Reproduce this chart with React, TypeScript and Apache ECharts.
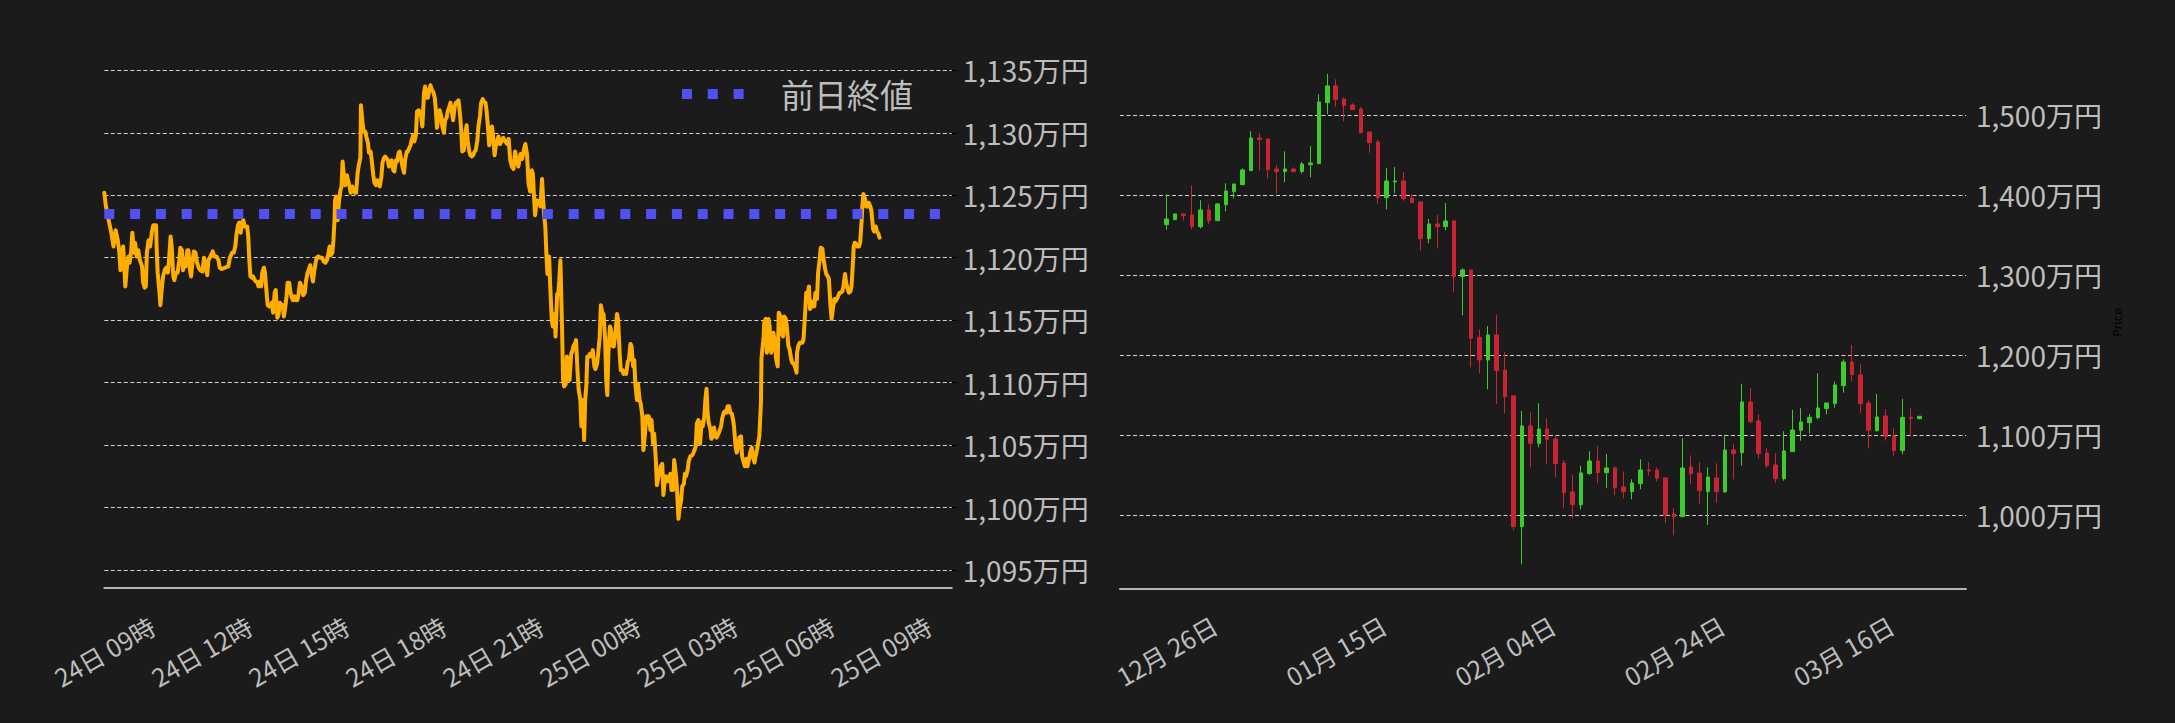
import React, { useEffect, useRef } from "react";
import * as echarts from "echarts";

// ---------- Left chart: intraday price (minutes after 24日 09:00, 万円) ----------
const intradayStartMinute = 540; // 24日 09:00, in minutes from 24日 00:00
const intradayAxisEndMinute = 2112;
const intradayYMin = 1095;
const intradayYMax = 1135;
const intradayYStep = 5;
const previousClose = 1123.5;
const previousCloseLabel = "前日終値";

const intradayPoints: [number, number][] = [
  [0, 1125.2], [3, 1124.1], [8, 1123.0], [13, 1122.0], [17, 1120.9], [21, 1122.2], [25, 1121.4], [28, 1120.4],
  [30, 1119.0], [32, 1120.1], [35, 1120.9], [37, 1119.3], [39, 1117.7], [42, 1119.3], [45, 1120.1], [47, 1119.6],
  [50, 1120.6], [52, 1122.0], [55, 1120.4], [57, 1121.2], [60, 1120.1], [63, 1120.6], [66, 1119.8], [70, 1119.3],
  [72, 1118.0], [75, 1117.6], [77, 1117.7], [79, 1120.4], [82, 1121.4], [85, 1120.9], [88, 1122.0], [91, 1122.6],
  [96, 1122.6], [97, 1120.9], [99, 1118.8], [102, 1117.4], [104, 1116.2], [107, 1117.7], [109, 1118.5], [112, 1119.0],
  [115, 1119.2], [118, 1118.8], [120, 1119.8], [123, 1121.7], [125, 1120.9], [128, 1118.5], [130, 1118.2], [133, 1118.8],
  [136, 1118.8], [139, 1119.8], [141, 1120.8], [144, 1120.6], [146, 1119.0], [149, 1119.8], [151, 1119.3], [154, 1120.6],
  [156, 1120.6], [159, 1119.0], [161, 1118.5], [164, 1119.8], [166, 1120.5], [169, 1120.4], [172, 1119.6], [175, 1119.2],
  [178, 1119.0], [182, 1118.9], [185, 1120.0], [188, 1119.3], [191, 1118.6], [193, 1119.8], [197, 1120.1], [201, 1120.5],
  [204, 1120.1], [208, 1120.1], [212, 1119.8], [214, 1119.2], [218, 1119.1], [224, 1119.2], [230, 1119.3], [233, 1120.0],
  [237, 1120.4], [240, 1120.4], [243, 1120.9], [245, 1121.8], [248, 1122.6], [250, 1122.8], [253, 1122.0], [255, 1122.8],
  [258, 1123.0], [260, 1122.5], [263, 1122.5], [265, 1122.5], [267, 1121.7], [269, 1119.8], [271, 1118.5], [274, 1118.4],
  [276, 1118.5], [279, 1118.2], [281, 1118.1], [284, 1118.0], [286, 1117.7], [288, 1118.1], [291, 1117.7], [293, 1118.8],
  [296, 1119.2], [298, 1118.8], [301, 1117.2], [303, 1116.2], [306, 1116.1], [308, 1116.1], [311, 1116.4], [313, 1115.6],
  [316, 1117.2], [318, 1117.4], [321, 1115.2], [323, 1115.4], [326, 1116.4], [328, 1116.0], [331, 1116.2], [333, 1115.3],
  [335, 1115.8], [338, 1116.9], [340, 1118.0], [343, 1118.0], [345, 1117.3], [348, 1116.8], [350, 1116.6], [353, 1116.9],
  [355, 1116.6], [358, 1116.6], [360, 1117.0], [363, 1118.0], [366, 1117.7], [369, 1117.0], [372, 1117.2], [374, 1118.1],
  [377, 1118.8], [379, 1119.0], [382, 1119.4], [384, 1118.8], [387, 1118.1], [389, 1118.8], [392, 1119.6], [394, 1120.0],
  [397, 1120.1], [400, 1120.0], [404, 1120.0], [407, 1119.7], [410, 1119.6], [413, 1119.8], [415, 1120.2], [418, 1120.9],
  [420, 1120.2], [423, 1120.4], [425, 1121.4], [427, 1123.0], [428, 1124.6], [430, 1124.9], [433, 1123.0], [435, 1124.4],
  [438, 1125.4], [440, 1125.7], [442, 1127.7], [445, 1126.2], [447, 1125.8], [450, 1126.6], [452, 1126.2], [455, 1125.7],
  [457, 1125.2], [460, 1125.7], [462, 1125.3], [465, 1125.2], [467, 1125.2], [470, 1126.8], [472, 1127.4], [475, 1128.0],
  [476, 1132.2], [479, 1130.8], [481, 1130.1], [484, 1130.1], [486, 1129.7], [489, 1129.2], [491, 1128.4], [494, 1128.5],
  [496, 1127.8], [499, 1126.6], [501, 1126.0], [504, 1125.8], [506, 1126.2], [509, 1126.0], [511, 1125.7], [514, 1126.5],
  [516, 1127.6], [519, 1128.0], [521, 1128.1], [523, 1128.0], [526, 1127.8], [528, 1127.3], [531, 1127.6], [533, 1127.8],
  [536, 1127.0], [538, 1126.9], [541, 1127.8], [543, 1127.7], [546, 1128.4], [548, 1128.5], [551, 1127.8], [553, 1127.3],
  [556, 1126.8], [558, 1127.8], [561, 1128.5], [563, 1128.5], [566, 1128.8], [568, 1129.0], [570, 1129.4], [573, 1129.8],
  [575, 1129.3], [578, 1129.8], [580, 1131.7], [583, 1131.8], [585, 1131.7], [588, 1131.2], [590, 1130.5], [593, 1133.2],
  [595, 1133.7], [598, 1132.8], [600, 1132.8], [603, 1133.4], [605, 1133.8], [608, 1133.4], [610, 1133.3], [613, 1132.8],
  [615, 1131.8], [617, 1130.4], [620, 1131.2], [622, 1131.8], [625, 1131.3], [627, 1130.5], [630, 1130.0], [632, 1131.0],
  [635, 1131.2], [637, 1131.7], [640, 1132.1], [642, 1132.4], [645, 1131.6], [647, 1131.0], [650, 1132.1], [652, 1132.4],
  [655, 1132.5], [657, 1132.6], [660, 1131.4], [662, 1130.2], [664, 1128.5], [667, 1128.6], [669, 1129.7], [672, 1130.6],
  [674, 1129.4], [677, 1128.5], [679, 1128.2], [682, 1128.1], [684, 1128.2], [687, 1128.5], [689, 1128.6], [692, 1129.4],
  [694, 1130.5], [697, 1131.4], [699, 1132.4], [702, 1132.7], [704, 1132.5], [707, 1132.4], [709, 1131.8], [711, 1130.8],
  [714, 1129.0], [716, 1130.0], [719, 1130.5], [721, 1129.8], [724, 1128.2], [726, 1128.9], [729, 1129.4], [731, 1129.7],
  [734, 1129.1], [740, 1129.6], [747, 1129.1], [750, 1129.5], [753, 1127.8], [756, 1127.3], [759, 1127.1], [762, 1128.5],
  [765, 1127.8], [768, 1127.3], [772, 1128.3], [775, 1127.9], [778, 1128.6], [781, 1129.1], [784, 1128.3], [787, 1125.9],
  [790, 1125.3], [793, 1127.0], [795, 1126.7], [797, 1124.9], [799, 1123.4], [802, 1124.6], [806, 1124.5], [809, 1124.1],
  [812, 1126.3], [814, 1124.6], [816, 1123.4], [818, 1122.5], [820, 1120.3], [822, 1118.7], [825, 1120.1], [827, 1117.9],
  [830, 1115.0], [832, 1114.5], [835, 1115.5], [837, 1113.7], [840, 1117.1], [842, 1117.1], [844, 1118.2], [846, 1119.8],
  [849, 1114.5], [851, 1110.2], [853, 1109.7], [856, 1109.9], [858, 1112.1], [861, 1111.3], [863, 1110.2], [866, 1112.3],
  [868, 1112.5], [870, 1112.9], [873, 1113.1], [875, 1113.4], [878, 1110.7], [880, 1109.4], [883, 1108.6], [885, 1106.5],
  [888, 1108.6], [890, 1105.4], [892, 1108.6], [894, 1109.7], [896, 1112.1], [899, 1112.1], [901, 1112.3], [904, 1112.1],
  [906, 1112.6], [909, 1111.3], [911, 1111.1], [914, 1111.5], [916, 1112.3], [919, 1113.7], [921, 1116.2], [924, 1115.5],
  [926, 1115.5], [929, 1113.4], [931, 1110.2], [933, 1109.0], [935, 1112.3], [938, 1114.5], [940, 1114.2], [943, 1112.9],
  [945, 1112.9], [948, 1113.9], [951, 1115.5], [953, 1115.0], [956, 1112.3], [958, 1111.0], [961, 1111.0], [963, 1110.7],
  [966, 1110.9], [968, 1110.7], [971, 1111.7], [973, 1111.8], [976, 1113.1], [978, 1112.9], [981, 1111.3], [983, 1111.8],
  [985, 1109.9], [988, 1108.6], [990, 1109.9], [993, 1108.6], [995, 1108.3], [998, 1107.3], [1000, 1104.6], [1003, 1105.9],
  [1005, 1107.3], [1008, 1107.3], [1010, 1107.3], [1013, 1106.2], [1015, 1107.0], [1018, 1105.1], [1020, 1105.9], [1023, 1103.8],
  [1025, 1101.8], [1028, 1102.5], [1030, 1102.7], [1032, 1103.3], [1035, 1103.5], [1037, 1101.0], [1040, 1102.3], [1042, 1102.5],
  [1045, 1102.1], [1047, 1102.2], [1050, 1102.7], [1052, 1101.4], [1055, 1101.4], [1057, 1103.8], [1060, 1102.7], [1062, 1101.7],
  [1065, 1099.1], [1067, 1099.9], [1070, 1100.6], [1072, 1101.7], [1075, 1101.9], [1077, 1102.7], [1079, 1102.5], [1082, 1103.0],
  [1084, 1103.7], [1087, 1104.1], [1091, 1104.2], [1094, 1104.5], [1097, 1104.9], [1099, 1106.7], [1102, 1107.0], [1104, 1105.5],
  [1105, 1105.1], [1108, 1106.8], [1110, 1106.5], [1113, 1107.3], [1115, 1108.7], [1117, 1109.5], [1119, 1107.6], [1121, 1106.8],
  [1124, 1106.3], [1126, 1105.5], [1129, 1105.7], [1131, 1106.4], [1134, 1105.7], [1136, 1105.6], [1139, 1105.9], [1141, 1106.1],
  [1144, 1106.5], [1146, 1107.1], [1149, 1107.6], [1151, 1107.7], [1154, 1107.6], [1156, 1108.1], [1159, 1108.1], [1161, 1107.6],
  [1164, 1107.5], [1166, 1107.1], [1168, 1106.5], [1171, 1104.9], [1173, 1104.4], [1176, 1104.9], [1178, 1105.6], [1181, 1105.7],
  [1183, 1104.1], [1186, 1103.6], [1188, 1103.3], [1191, 1103.9], [1193, 1103.3], [1196, 1103.9], [1198, 1104.4], [1201, 1104.8],
  [1203, 1104.1], [1206, 1103.6], [1208, 1104.1], [1211, 1104.7], [1213, 1105.2], [1215, 1105.7], [1218, 1108.4], [1219, 1111.9],
  [1220, 1112.4], [1223, 1113.7], [1224, 1114.8], [1227, 1115.1], [1229, 1112.4], [1232, 1115.1], [1234, 1114.5], [1237, 1112.4],
  [1239, 1112.9], [1241, 1114.0], [1244, 1113.2], [1246, 1111.9], [1249, 1111.3], [1251, 1115.6], [1254, 1115.3], [1256, 1114.0],
  [1259, 1113.7], [1261, 1115.3], [1264, 1115.1], [1266, 1114.5], [1269, 1112.9], [1271, 1112.7], [1274, 1111.9], [1276, 1111.6],
  [1279, 1111.5], [1281, 1111.3], [1284, 1110.8], [1285, 1112.4], [1287, 1112.9], [1290, 1113.2], [1292, 1113.2], [1295, 1113.2],
  [1297, 1113.5], [1300, 1115.6], [1302, 1117.2], [1305, 1117.2], [1307, 1117.7], [1309, 1115.9], [1312, 1116.1], [1314, 1116.5],
  [1317, 1116.1], [1319, 1117.2], [1322, 1116.7], [1324, 1118.8], [1327, 1119.9], [1329, 1120.8], [1332, 1120.7], [1334, 1119.9],
  [1337, 1119.1], [1339, 1118.7], [1342, 1118.5], [1344, 1118.3], [1347, 1116.1], [1349, 1115.1], [1352, 1116.1], [1354, 1116.7],
  [1356, 1116.5], [1359, 1116.7], [1361, 1116.9], [1364, 1117.2], [1366, 1117.2], [1369, 1117.3], [1371, 1117.7], [1374, 1118.7],
  [1376, 1118.0], [1379, 1117.5], [1381, 1117.2], [1384, 1117.3], [1386, 1117.7], [1389, 1119.9], [1390, 1120.9], [1392, 1121.2],
  [1395, 1121.1], [1397, 1120.9], [1400, 1120.9], [1402, 1121.2], [1405, 1123.1], [1406, 1124.1], [1408, 1125.1], [1411, 1124.7],
  [1413, 1124.1], [1416, 1124.1], [1418, 1124.4], [1421, 1124.1], [1423, 1123.7], [1426, 1122.3], [1428, 1122.1], [1431, 1122.5],
  [1433, 1122.1], [1436, 1121.9], [1438, 1121.6],
];

// ---------- Right chart: daily candles from 2024-12-26 (万円) ----------
const candleFirstDay = { year: 2024, month: 12, day: 26 };
const axisDaysBefore = 5;
const axisDaysAfter = 5;
const candleYMin = 900;
const candleYMax = 1560;
const candleYStep = 100;

const candleOpen = [
  1363.3, 1369.6, 1376.7, 1375.4, 1360.8, 1381.7, 1368.3, 1388.3, 1404.6, 1413.3,
  1430.8, 1471.7, 1470.4, 1432.9, 1429.6, 1432.9, 1429.6, 1438.3, 1439.6, 1515.8,
  1536.7, 1520.4, 1512.9, 1507.9, 1479.2, 1466.7, 1397.1, 1416.7, 1417.9, 1396.7,
  1391.7, 1345.8, 1364.2, 1360.8, 1367.9, 1298.3, 1306.7, 1222.5, 1194.2, 1225.4,
  1181.7, 1149.2, 985.8, 1111.7, 1090.0, 1107.9, 1095.4, 1065.4, 1029.2, 1013.3,
  1052.1, 1067.9, 1053.3, 1059.2, 1035.4, 1029.6, 1039.6, 1056.7, 1056.7, 1046.7,
  1001.7, 998.3, 1060.4, 1052.9, 1029.6, 1046.7, 1029.2, 1081.7, 1078.3, 1141.7,
  1117.9, 1077.9, 1062.9, 1045.8, 1079.6, 1106.3, 1115.8, 1122.1, 1133.3, 1139.6,
  1162.1, 1191.7, 1175.4, 1140.4, 1105.8, 1124.2, 1099.2, 1080.8, 1122.5, 1120.8,
];
const candleClose = [
  1370.4, 1376.7, 1374.6, 1360.8, 1381.7, 1368.3, 1389.2, 1405.4, 1414.2, 1431.7,
  1471.7, 1469.6, 1432.1, 1429.6, 1432.9, 1429.6, 1439.2, 1440.4, 1516.7, 1536.7,
  1519.6, 1512.1, 1507.1, 1478.3, 1465.8, 1397.1, 1417.9, 1417.9, 1395.8, 1390.8,
  1345.8, 1364.2, 1360.8, 1367.9, 1298.3, 1306.7, 1221.3, 1194.2, 1225.4, 1180.8,
  1148.3, 985.8, 1111.7, 1090.0, 1107.9, 1095.0, 1064.6, 1028.3, 1013.3, 1052.9,
  1067.9, 1053.3, 1059.2, 1034.6, 1029.6, 1040.4, 1056.7, 1055.4, 1046.3, 1000.4,
  998.3, 1059.2, 1052.1, 1030.8, 1047.9, 1029.6, 1081.7, 1077.1, 1141.7, 1117.1,
  1077.1, 1062.1, 1045.8, 1080.4, 1106.7, 1116.7, 1122.5, 1134.2, 1140.4, 1162.9,
  1191.7, 1175.8, 1139.6, 1106.3, 1122.9, 1098.3, 1080.8, 1122.5, 1120.8, 1123.8,
];
const candleLow = [
  1357.1, 1368.8, 1368.3, 1357.5, 1358.3, 1363.8, 1367.9, 1380.0, 1396.3, 1412.9,
  1430.8, 1431.3, 1421.3, 1402.1, 1416.3, 1429.6, 1427.1, 1422.5, 1439.6, 1501.3,
  1510.8, 1492.5, 1506.7, 1477.5, 1453.3, 1389.6, 1382.5, 1402.5, 1393.3, 1390.8,
  1331.3, 1340.0, 1333.8, 1356.3, 1278.8, 1250.0, 1185.0, 1177.5, 1157.5, 1139.2,
  1127.5, 981.7, 938.8, 1060.0, 1085.0, 1063.8, 1047.5, 1008.8, 996.3, 1007.5,
  1050.8, 1040.0, 1033.8, 1025.0, 1021.3, 1020.0, 1032.5, 1049.6, 1042.1, 990.0,
  975.0, 997.5, 1038.8, 1014.6, 987.9, 1015.8, 1028.3, 1045.0, 1062.1, 1115.0,
  1071.3, 1058.8, 1040.0, 1043.3, 1079.2, 1093.3, 1102.1, 1120.0, 1126.3, 1134.6,
  1153.3, 1167.1, 1128.3, 1083.8, 1104.6, 1093.3, 1074.6, 1076.3, 1098.3, 1120.0,
];
const candleHigh = [
  1401.3, 1377.5, 1377.5, 1412.5, 1393.8, 1388.8, 1390.4, 1415.0, 1414.2, 1433.8,
  1480.0, 1477.5, 1470.4, 1437.5, 1455.0, 1435.0, 1441.7, 1461.3, 1526.3, 1551.7,
  1545.0, 1522.5, 1515.0, 1510.0, 1479.2, 1469.2, 1434.2, 1435.4, 1429.2, 1401.3,
  1391.7, 1370.4, 1375.4, 1390.4, 1369.2, 1308.8, 1306.7, 1232.5, 1236.7, 1250.4,
  1203.8, 1150.0, 1130.4, 1128.8, 1140.0, 1121.3, 1099.2, 1069.2, 1050.4, 1062.1,
  1080.0, 1086.7, 1076.7, 1061.3, 1054.6, 1045.0, 1070.0, 1066.3, 1059.6, 1046.7,
  1008.8, 1096.3, 1075.0, 1066.3, 1060.0, 1065.0, 1100.8, 1089.2, 1164.2, 1158.8,
  1126.3, 1083.8, 1077.5, 1105.0, 1131.7, 1133.8, 1126.7, 1177.5, 1140.4, 1167.1,
  1195.0, 1212.9, 1188.8, 1143.8, 1151.7, 1132.5, 1108.8, 1145.4, 1133.8, 1123.8,
];
const dateLabelEveryDays = 20;

// ---------- styling ----------
const BG = "#1b1b1b";
const TEXT = "#bdbdbd";
const FONT = "'Noto Sans CJK JP', 'Noto Sans', sans-serif";
const ORANGE = "#ffad00";
const BLUE = "#5050f5";
const UP = "#3ecc2c";
const DOWN = "#c92434";
const GRID_LINE = { color: "#d2d2d2", width: 1, type: [4, 2.5] as number[] };
const AXIS_LINE = { color: "#b4b4b4", width: 2 };

const pad2 = (n: number) => (n < 10 ? "0" + n : String(n));
const withComma = (v: number) => String(Math.round(v)).replace(/\B(?=(\d{3})+(?!\d))/g, ",");

export default function App() {
  const ref = useRef<HTMLDivElement>(null);

  useEffect(() => {
    document.body.style.margin = "0";
    document.body.style.background = BG;
    if (!ref.current) return;
    const chart = echarts.init(ref.current, undefined, { renderer: "svg" });

    // intraday line data (x = minutes from 24日 00:00)
    const lineData = intradayPoints.map(([m, v]) => [intradayStartMinute + m, v]);
    const prevCloseData = [
      [intradayStartMinute, previousClose],
      [intradayAxisEndMinute, previousClose],
    ];

    // daily category axis
    const start = Date.UTC(candleFirstDay.year, candleFirstDay.month - 1, candleFirstDay.day);
    const nDays = candleOpen.length + axisDaysBefore + axisDaysAfter;
    const categories: string[] = [];
    for (let i = 0; i < nDays; i++) {
      const d = new Date(start + (i - axisDaysBefore) * 86400000);
      categories.push(`${pad2(d.getUTCMonth() + 1)}月 ${pad2(d.getUTCDate())}日`);
    }
    const candleData: any[] = categories.map((_, i) => {
      const k = i - axisDaysBefore;
      if (k < 0 || k >= candleOpen.length) return "-";
      return [candleOpen[k], candleClose[k], candleLow[k], candleHigh[k]];
    });
    const showDate = (idx: number) =>
      idx >= axisDaysBefore && (idx - axisDaysBefore) % dateLabelEveryDays === 0;

    const xLabelBase = {
      rotate: 30,
      align: "center",
      verticalAlign: "middle",
      fontSize: 25,
      color: TEXT,
      fontFamily: FONT,
      hideOverlap: false,
    };
    const yLabelBase = { fontSize: 28, color: TEXT, fontFamily: FONT };

    const option: any = {
      animation: false,
      backgroundColor: BG,
      textStyle: { fontFamily: FONT },
      grid: [
        { left: 104.3, top: 70.3, width: 847.5, height: 499.7, containLabel: false, outerBoundsMode: "none" },
        { left: 1120, top: 67.3, width: 846, height: 528, containLabel: false, outerBoundsMode: "none" },
      ],
      xAxis: [
        {
          type: "value",
          gridIndex: 0,
          min: intradayStartMinute,
          max: intradayAxisEndMinute,
          interval: 180,
          offset: 18,
          axisLine: { show: true, onZero: false, lineStyle: AXIS_LINE },
          axisTick: { show: false },
          axisLabel: {
            ...xLabelBase,
            margin: 63,
            showMinLabel: true,
            showMaxLabel: false,
            formatter: (v: number) => {
              const day = 24 + Math.floor(v / 1440);
              const hour = Math.floor((v % 1440) / 60);
              return `${day}日 ${pad2(hour)}時`;
            },
          },
          splitLine: { show: false },
        },
        {
          type: "category",
          gridIndex: 1,
          data: categories,
          boundaryGap: true,
          offset: -7,
          axisLine: { show: true, onZero: false, lineStyle: AXIS_LINE },
          axisTick: { show: false },
          axisLabel: { ...xLabelBase, margin: 62, interval: (idx: number) => showDate(idx) },
          splitLine: { show: false },
        },
      ],
      yAxis: [
        {
          type: "value",
          gridIndex: 0,
          position: "right",
          min: intradayYMin,
          max: intradayYMax,
          interval: intradayYStep,
          axisLine: { show: false },
          axisTick: { show: true, length: 5, lineStyle: { color: "#000", width: 1 } },
          axisLabel: { ...yLabelBase, margin: 11, formatter: (v: number) => `${withComma(v)}万円` },
          splitLine: { show: true, lineStyle: GRID_LINE },
        },
        {
          type: "value",
          gridIndex: 1,
          position: "right",
          min: candleYMin,
          max: candleYMax,
          interval: candleYStep,
          axisLine: { show: false },
          axisTick: { show: false },
          axisLabel: {
            ...yLabelBase,
            margin: 10,
            showMinLabel: false,
            showMaxLabel: false,
            formatter: (v: number) => `${withComma(v)}万円`,
          },
          splitLine: { show: true, showMinLine: false, showMaxLine: false, lineStyle: GRID_LINE },
        },
      ],
      series: [
        {
          name: "price",
          type: "line",
          xAxisIndex: 0,
          yAxisIndex: 0,
          data: lineData,
          showSymbol: false,
          symbol: "none",
          lineStyle: { color: ORANGE, width: 4, join: "round", cap: "round" },
          z: 2,
        },
        {
          name: previousCloseLabel,
          type: "line",
          xAxisIndex: 0,
          yAxisIndex: 0,
          data: prevCloseData,
          showSymbol: false,
          symbol: "none",
          lineStyle: { color: BLUE, width: 10, type: [10, 15.8], cap: "butt" },
          z: 3,
        },
        {
          name: "candles",
          type: "candlestick",
          xAxisIndex: 1,
          yAxisIndex: 1,
          data: candleData,
          barWidth: 4,
          itemStyle: {
            color: UP,
            color0: DOWN,
            borderColor: UP,
            borderColor0: DOWN,
            borderWidth: 1,
          },
        },
      ],
      graphic: [
        {
          type: "line",
          shape: { x1: 682, y1: 94, x2: 743.6, y2: 94 },
          style: { stroke: BLUE, lineWidth: 10, lineDash: [10, 15.8], lineCap: "butt" },
        },
        {
          type: "text",
          x: 781,
          y: 93.5,
          style: {
            text: previousCloseLabel,
            fill: TEXT,
            fontSize: 33,
            fontFamily: FONT,
            verticalAlign: "middle",
            align: "left",
          },
        },
        {
          type: "text",
          x: 2118,
          y: 322,
          rotation: Math.PI / 2,
          style: {
            text: "Price",
            fill: "#000000",
            fontSize: 12,
            fontFamily: "'DejaVu Sans', sans-serif",
            align: "center",
            verticalAlign: "middle",
          },
        },
      ],
    };

    chart.setOption(option);
    return () => chart.dispose();
  }, []);

  return <div ref={ref} style={{ width: 2175, height: 723 }} />;
}
